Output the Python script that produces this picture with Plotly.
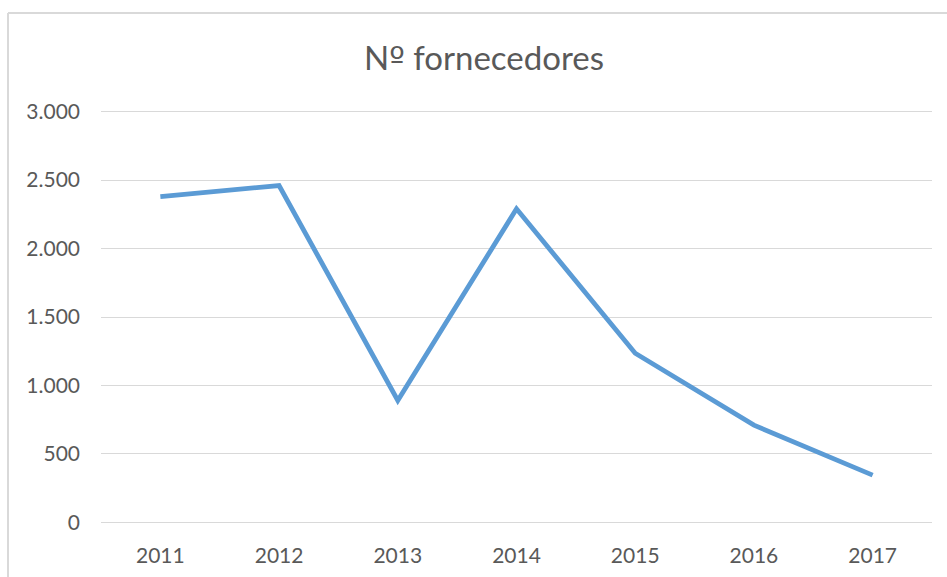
import plotly.graph_objects as go

years = ["2011", "2012", "2013", "2014", "2015", "2016", "2017"]
fornecedores = [2380, 2460, 890, 2290, 1235, 710, 345]
y_ticks = [0, 500, 1000, 1500, 2000, 2500, 3000]
y_tick_labels = ["0", "500", "1.000", "1.500", "2.000", "2.500", "3.000"]

W, H = 947, 577
L, R, T, B = 101, 15, 110, 53
pw, ph = W - L - R, H - T - B

fig = go.Figure()
fig.add_trace(go.Scatter(
    x=years, y=fornecedores, mode="lines",
    line=dict(color="#5B9BD5", width=4.8, shape="linear"),
    hoverinfo="x+y", showlegend=False,
))

font = "Lato, Carlito, Calibri, sans-serif"
title_text = 'N<span style="font-family:\'DejaVu Sans\'">º</span> fornecedores'
fig.update_layout(
    width=W, height=H,
    margin=dict(l=L, r=R, t=T, b=B, autoexpand=False),
    paper_bgcolor="white", plot_bgcolor="white",
    title=dict(text=title_text, x=484 / W, xanchor="center",
               y=1 - 58 / H, yanchor="middle",
               font=dict(family=font, size=33, color="#595959")),
    xaxis=dict(type="category", range=[-0.5, 6.5], showgrid=False, zeroline=False,
               showline=False, automargin=False,
               ticks="", ticklabelstandoff=17,
               tickfont=dict(family=font, size=21, color="#595959")),
    yaxis=dict(range=[-12, 3012], tickvals=y_ticks, ticktext=y_tick_labels,
               showgrid=True, gridcolor="#D9D9D9", gridwidth=1.3, automargin=False,
               zeroline=False, showline=False, ticks="", ticklabelstandoff=20,
               tickfont=dict(family=font, size=21, color="#595959")),
)
# outer chart border (cropped at right and bottom)
x0 = (8 - L) / pw
y0 = 1 + (T - 13) / ph
fig.add_shape(type="line", xref="paper", yref="paper", x0=x0, x1=x0, y0=y0, y1=-0.5,
              line=dict(color="#D9D9D9", width=2))
fig.add_shape(type="line", xref="paper", yref="paper", x0=x0, x1=1.5, y0=y0, y1=y0,
              line=dict(color="#D9D9D9", width=2))

fig.write_html("out.html", config={"displayModeBar": False},
               post_script="document.body.style.margin='0';document.body.style.overflow='hidden';")
